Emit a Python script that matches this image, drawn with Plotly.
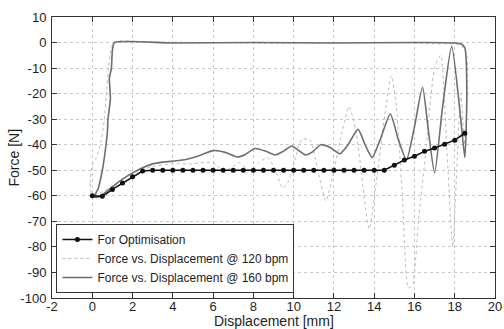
import plotly.graph_objects as go

# ---- data: "For Optimisation" ----
opt_x = [0, 0.5, 1, 1.5, 2, 2.5, 3, 3.5, 4, 4.5, 5, 5.5, 6, 6.5, 7, 7.5, 8, 8.5, 9, 9.5,
         10, 10.5, 11, 11.5, 12, 12.5, 13, 13.5, 14, 14.5, 15, 15.5, 16, 16.5, 17, 17.5, 18, 18.5]
opt_y = [-60, -60.2, -57.5, -55, -52.5, -50.3, -50, -50, -50, -50, -50, -50, -50, -50, -50, -50,
         -50, -50, -50, -50, -50, -50, -50, -50, -50, -50, -50, -50, -50, -50, -48, -46, -44.5,
         -42.6, -41.3, -39.8, -38.2, -35.5]

# ---- data: Force vs. Displacement @ 120 bpm (light, strongly oscillating) ----
f120_x = [0.0, -0.1, 0.0, 0.2, 0.4, 0.6, 0.7, 0.8, 0.95, 1.1, 3, 6, 9, 12, 15, 17, 18.3,
          18.6, 18.5, 18.3, 18.1, 17.9, 17.6, 17.3, 17.0, 16.6, 16.2, 15.9, 15.7, 15.4, 15.1,
          14.85, 14.5, 14.1, 13.75, 13.5, 13.1, 12.75, 12.4, 12.0, 11.6, 11.2, 10.8, 10.4,
          10.1, 9.7, 9.45, 9.1, 8.7, 8.3, 7.8, 7.3, 6.9, 6.5, 6.0, 5.5, 5.0, 4.0, 3.0, 2.0,
          1.2, 0.6, 0.1, 0.0]
f120_y = [-61, -55, -48, -45, -40, -30, -20, -10, -2, 0.3, 0.2, 0, -0.3, 0, 0, -0.5, -1,
          -5, -40, -20, -50, -80, -40, -5, -10, -40, -70, -95, -96, -60, -25,
          -13, -30, -55, -73, -60, -35, -25, -35, -50, -62, -50, -38, -38,
          -45, -55, -57, -50, -45, -47, -50, -47, -49, -50, -47, -47, -47.5, -47.5, -48.5, -51,
          -55, -58, -60, -61]

# ---- data: Force vs. Displacement @ 160 bpm (dark, smoother wave) ----
f160_x = [0.1, 0.3, 0.5, 0.6, 0.75, 0.78, 0.9, 0.85, 0.95, 1.0, 1.1, 4, 8, 12, 16, 18.3,
          18.5, 18.6, 18.5, 18.3, 17.85, 17.4, 17.0, 16.7, 16.4, 16.0, 15.6, 15.2, 14.8,
          14.3, 13.9, 13.55, 13.2, 12.7, 12.3, 11.8, 11.35, 10.9, 10.6, 10.2, 9.9, 9.5,
          9.07, 8.6, 8.07, 7.6, 7.2, 6.6, 6.0, 5.4, 4.8, 4.3, 3.5, 3.0, 2.5, 2.0, 1.5, 1.0,
          0.6, 0.3, 0.1]
f160_y = [-60.5, -57, -50, -45, -35, -30, -22, -14, -10, -3, 0, -0.2, 0, -0.2, 0, -0.5,
          -2, -20, -45, -30, -1.5, -25, -51, -35, -17.5, -33, -46, -38, -28,
          -38, -45, -40, -34, -40, -43.5, -41, -40, -43, -44, -42, -40.5, -42.5,
          -44, -42.5, -41.5, -43.8, -44.8, -43, -42.3, -44, -45.5, -46.2, -46.8, -47.5, -49,
          -51, -53.5, -56.5, -59, -60.5, -60.5]

x_ticks = list(range(-2, 21, 2))
y_ticks = list(range(-100, 11, 10))

FONT = "Arial, Liberation Sans, Helvetica, sans-serif"
TXT = "#1e1e1e"

fig = go.Figure()
fig.add_trace(go.Scatter(x=f120_x, y=f120_y, mode="lines",
                         name="Force vs. Displacement @ 120 bpm",
                         line=dict(color="#bcbcbc", width=1, dash="dot", shape="spline", smoothing=0.6),
                         legendrank=2))
fig.add_trace(go.Scatter(x=f160_x, y=f160_y, mode="lines",
                         name="Force vs. Displacement @ 160 bpm",
                         line=dict(color="#6e6e6e", width=1.6, shape="spline", smoothing=0.6),
                         legendrank=3))
fig.add_trace(go.Scatter(x=opt_x, y=opt_y, mode="lines+markers", name="For Optimisation",
                         line=dict(color="#111111", width=1.6),
                         marker=dict(color="#111111", size=5, symbol="circle"),
                         legendrank=1))

axis_common = dict(showline=True, linecolor="#333333", linewidth=1, mirror="ticks",
                   ticks="inside", ticklen=5, tickcolor="#333333",
                   showgrid=True, gridcolor="#c8c8c8", griddash="dot", gridwidth=1,
                   zeroline=False, automargin=False,
                   tickfont=dict(family=FONT, size=13, color=TXT))

fig.update_xaxes(range=[-2, 20], tickvals=x_ticks, ticktext=[str(v) for v in x_ticks],
                 ticklabelstandoff=-4, **axis_common)
fig.update_yaxes(range=[-100, 10], tickvals=y_ticks, ticktext=[str(v) for v in y_ticks],
                 ticklabelstandoff=2, **axis_common)

fig.update_layout(
    width=504, height=329,
    margin=dict(l=52, r=9, t=17, b=31),
    paper_bgcolor="white", plot_bgcolor="white",
    font=dict(family=FONT, size=13, color=TXT),
    showlegend=True,
    legend=dict(x=0.01, y=0.018, xanchor="left", yanchor="bottom",
                bgcolor="white", bordercolor="#333333", borderwidth=1,
                font=dict(size=12, family=FONT, color=TXT), itemwidth=30, tracegroupgap=0),
    annotations=[
        dict(text="Displacement [mm]", xref="paper", yref="paper", x=0.5, y=0,
             xanchor="center", yanchor="top", yshift=-13, showarrow=False,
             font=dict(family=FONT, size=14, color=TXT)),
        dict(text="Force [N]", xref="paper", yref="paper", x=0, y=0.5,
             xanchor="center", yanchor="middle", xshift=-39, textangle=-90, showarrow=False,
             font=dict(family=FONT, size=14, color=TXT)),
    ],
)

fig.write_html("out.html", config={"displayModeBar": False},
               post_script="document.body.style.margin='0';document.body.style.overflow='hidden';")
